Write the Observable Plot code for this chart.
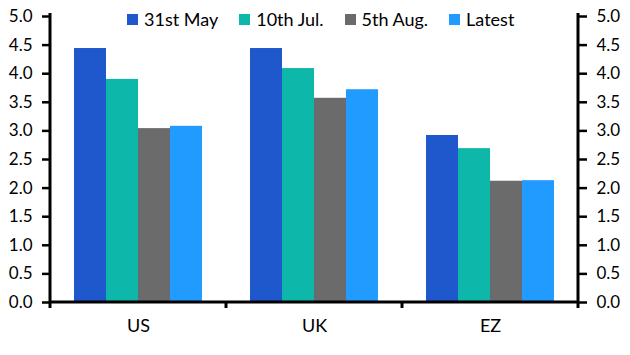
<!DOCTYPE html>
<html>
<head>
<meta charset="utf-8">
<script src="https://cdn.jsdelivr.net/npm/d3@7"></script>
<script src="https://cdn.jsdelivr.net/npm/@observablehq/plot@0.6"></script>
<style>
  body { margin: 0; background: #fff; }
  #wrap { position: relative; width: 630px; height: 355px; font-family: Lato, "Noto Sans", sans-serif; }
  #legend { position: absolute; left: 127px; top: 8px; display: flex; gap: 21px; font-size: 18px; color: #000; }
  #legend .item { display: flex; align-items: center; white-space: nowrap; }
  #legend .sw { width: 11px; height: 11px; margin-right: 6px; display: inline-block; }
</style>
</head>
<body>
<div id="wrap"><div id="legend"></div></div>
<script>
const groups = ["US", "UK", "EZ"];
const series = ["31st May", "10th Jul.", "5th Aug.", "Latest"];
const v31May  = [4.44, 4.44, 2.92];
const v10Jul  = [3.90, 4.09, 2.69];
const v5Aug   = [3.04, 3.57, 2.12];
const vLatest = [3.08, 3.72, 2.13];
const colors = ["#1f58cc", "#0db8aa", "#6b6b6b", "#219bff"];
const yTicks = [0, 0.5, 1, 1.5, 2, 2.5, 3, 3.5, 4, 4.5, 5];

const seriesValues = [v31May, v10Jul, v5Aug, vLatest];
const data = [];
groups.forEach((g, gi) => series.forEach((s, si) => data.push({group: g, series: s, value: seriesValues[si][gi]})));

const axisOpts = {ticks: yTicks, tickFormat: d3.format(".1f"), tickSize: 8, tickPadding: 10, strokeWidth: 2.5, fontSize: 17, label: null};

const chart = Plot.plot({
  width: 630, height: 355,
  marginLeft: 50, marginRight: 52, marginTop: 16, marginBottom: 53,
  style: {fontFamily: "Lato, 'Noto Sans', sans-serif", fontSize: "17px", color: "#000", background: "#fff"},
  fx: {domain: groups, padding: 0, label: null},
  x: {domain: series, paddingInner: 0, paddingOuter: 0.75, axis: null},
  y: {domain: [0, 5], label: null},
  color: {domain: series, range: colors},
  marks: [
    Plot.barY(data, {fx: "group", x: "series", y: "value", fill: "series"}),
    Plot.axisY({anchor: "left", ...axisOpts}),
    Plot.axisY({anchor: "right", ...axisOpts}),
    Plot.axisFx({anchor: "bottom", tickSize: 0, tickPadding: 17, label: null, fontSize: 18})
  ]
});

document.getElementById("wrap").appendChild(chart);

// axis lines and group-boundary ticks derived from the scales
const fx = chart.scale("fx"), y = chart.scale("y");
const bounds = groups.map(g => fx.apply(g));
bounds.push(fx.apply(groups[groups.length - 1]) + fx.bandwidth);
const x0 = bounds[0], x1 = bounds[bounds.length - 1];
const y0 = y.apply(0), yTop = y.apply(5);
const svg = d3.select(chart);
const g = svg.append("g").attr("stroke", "#000").attr("stroke-width", 3);
g.append("line").attr("x1", x0).attr("x2", x0).attr("y1", yTop - 3).attr("y2", y0);
g.append("line").attr("x1", x1).attr("x2", x1).attr("y1", yTop - 3).attr("y2", y0);
g.append("line").attr("x1", x0).attr("x2", x1).attr("y1", y0).attr("y2", y0);
bounds.forEach(b => g.append("line").attr("x1", b).attr("x2", b).attr("y1", y0).attr("y2", y0 + 6));

// legend
const legend = d3.select("#legend");
series.forEach((s, i) => {
  const it = legend.append("div").attr("class", "item");
  it.append("span").attr("class", "sw").style("background", colors[i]);
  it.append("span").text(s);
});
</script>
</body>
</html>
